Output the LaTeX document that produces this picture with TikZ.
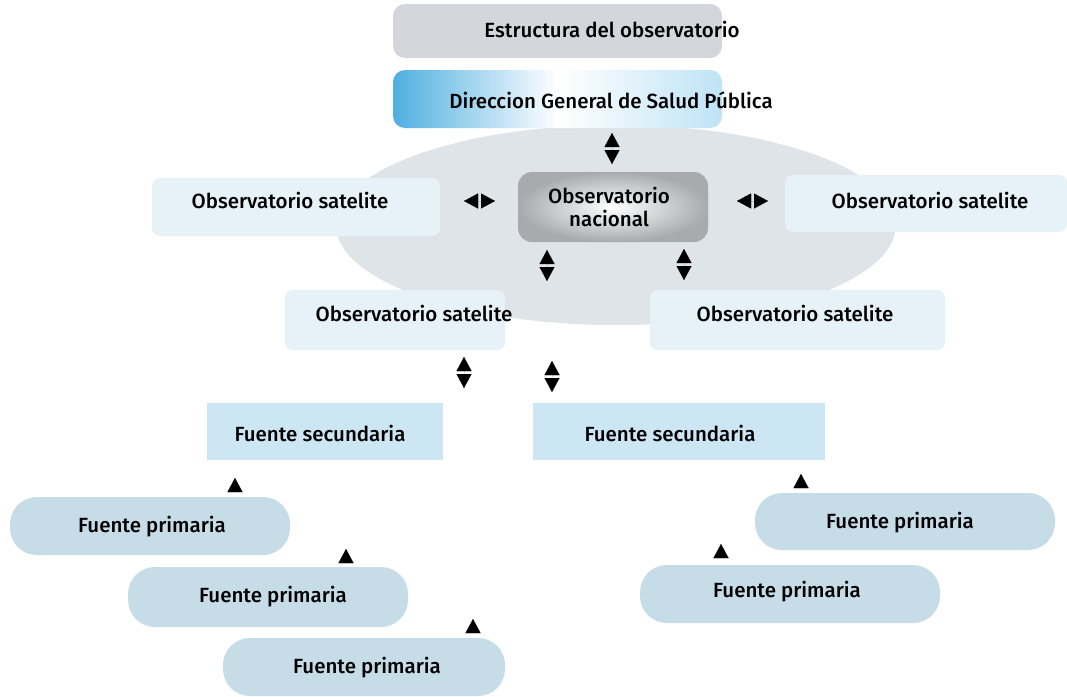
\documentclass[tikz,border=0pt]{standalone}
\usepackage{fontspec}
\setmainfont{Fira Sans Medium}
\usetikzlibrary{arrows.meta,shapes.geometric}
\definecolor{titlegray}{HTML}{D3D6DA}
\definecolor{dgblue}{HTML}{4FAFE0}
\definecolor{dglight}{HTML}{BFE3F6}
\definecolor{ellgray}{HTML}{DFE4E8}
\definecolor{satblue}{HTML}{E6F1F8}
\definecolor{secblue}{HTML}{CDE6F4}
\definecolor{primblue}{HTML}{C6DCE7}
\definecolor{natgray}{HTML}{A8AAAE}
\tikzset{
  x=1pt,y=-1pt,
  lbl/.style={font=\fontsize{20.5}{23}\selectfont, text=black, align=center},
  titlebox/.style={fill=titlegray, rounded corners=12pt},
  satbox/.style={fill=satblue, rounded corners=8pt},
  secbox/.style={fill=secblue},
  primbox/.style={fill=primblue, rounded corners=27pt},
  dbl/.style={line width=0.01pt, {Triangle[length=14pt,width=15pt]}-{Triangle[length=14pt,width=15pt]}},
  uptri/.style={line width=0.01pt, -{Triangle[length=14pt,width=15pt]}},
}
\begin{document}
\begin{tikzpicture}
\useasboundingbox (0,0) rectangle (1067,696);
\fill[white] (0,0) rectangle (1067,696);
% background ellipse
\fill[ellgray] (616,225) ellipse [x radius=280, y radius=100];
% title
\fill[titlebox] (393,4) rectangle (722,58);
\node[lbl] (title) at (612,29) {Estructura del observatorio};
% direccion
\shade[rounded corners=12pt, left color=dgblue, right color=dglight, middle color=white] (393,70) rectangle (722,128);
\node[lbl] (dg) at (611,100) {Direccion General de Salud Pública};
% satellites
\fill[satbox] (152,178) rectangle (440,236);
\node[lbl] (satL) at (290,200) {Observatorio satelite};
\fill[satbox] (785,175) rectangle (1067,232);
\node[lbl] (satR) at (930,200) {Observatorio satelite};
\fill[satbox] (285,290) rectangle (505,350);
\node[lbl] (satBL) at (414,313) {Observatorio satelite};
\fill[satbox] (650,290) rectangle (945,350);
\node[lbl] (satBR) at (795,313) {Observatorio satelite};
% national
\shade[rounded corners=14pt, inner color=white, outer color=natgray] (518,172) rectangle (708,242);
\node[lbl] (nat) at (609,207) {Observatorio\\nacional};
% secondary sources
\fill[secbox] (207,403) rectangle (443,460);
\node[lbl] (secL) at (320,433) {Fuente secundaria};
\fill[secbox] (533,403) rectangle (825,460);
\node[lbl] (secR) at (670,433) {Fuente secundaria};
% primary sources
\fill[primbox] (10,497) rectangle (290,555);
\node[lbl] (p1) at (152,527) {Fuente primaria};
\fill[primbox] (128,567) rectangle (408,627);
\node[lbl] (p2) at (273,597) {Fuente primaria};
\fill[primbox] (223,638) rectangle (505,696);
\node[lbl] (p3) at (367,668) {Fuente primaria};
\fill[primbox] (755,493) rectangle (1055,550);
\node[lbl] (p4) at (900,523) {Fuente primaria};
\fill[primbox] (640,565) rectangle (940,623);
\node[lbl] (p5) at (787,592) {Fuente primaria};
% double arrows
\coordinate (a1t) at (612,133); \coordinate (a1b) at (612,164);
\draw[dbl] (a1t) -- (a1b);
\coordinate (a2l) at (464,201); \coordinate (a2r) at (495,201);
\draw[dbl] (a2l) -- (a2r);
\coordinate (a3l) at (737,201); \coordinate (a3r) at (768,201);
\draw[dbl] (a3l) -- (a3r);
\coordinate (a4t) at (547,250); \coordinate (a4b) at (547,281);
\draw[dbl] (a4t) -- (a4b);
\coordinate (a5t) at (684,249); \coordinate (a5b) at (684,280);
\draw[dbl] (a5t) -- (a5b);
\coordinate (a6t) at (464,357); \coordinate (a6b) at (464,388);
\draw[dbl] (a6t) -- (a6b);
\coordinate (a7t) at (552,361); \coordinate (a7b) at (552,392);
\draw[dbl] (a7t) -- (a7b);
% single up arrows
\coordinate (u1a) at (235,492); \coordinate (u1b) at (235,478);
\draw[uptri] (u1a) -- (u1b);
\coordinate (u2a) at (346,563); \coordinate (u2b) at (346,549);
\draw[uptri] (u2a) -- (u2b);
\coordinate (u3a) at (473,633); \coordinate (u3b) at (473,619);
\draw[uptri] (u3a) -- (u3b);
\coordinate (u4a) at (801,488); \coordinate (u4b) at (801,474);
\draw[uptri] (u4a) -- (u4b);
\coordinate (u5a) at (721,558); \coordinate (u5b) at (721,544);
\draw[uptri] (u5a) -- (u5b);
\end{tikzpicture}
\end{document}
